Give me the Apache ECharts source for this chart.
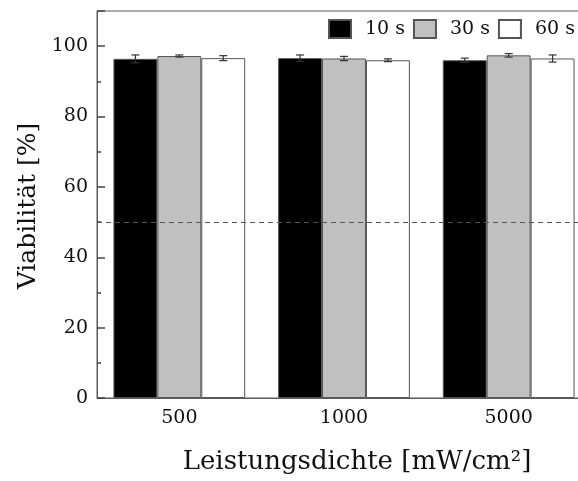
<!DOCTYPE html>
<html>
<head>
<meta charset="utf-8">
<script src="https://cdn.jsdelivr.net/npm/echarts@6/dist/echarts.min.js"></script>
<style>
  html, body { margin: 0; padding: 0; background: #fff; }
  #chart { width: 578px; height: 481px; }
</style>
</head>
<body>
<div id="chart"></div>
<script>
// Power density groups (x axis categories)
const categories = ['500', '1000', '5000'];
// Exposure times (legend)
const seriesNames = ['10 s', '30 s', '60 s'];
// Mean viability per exposure time [%]
const viab10 = [96.4, 96.6, 96.0];
const viab30 = [97.2, 96.5, 97.4];
const viab60 = [96.6, 96.0, 96.5];
// Standard deviations [%]
const err10 = [1.1, 0.9, 0.6];
const err30 = [0.3, 0.6, 0.5];
const err60 = [0.7, 0.4, 1.0];
// Reference threshold line [%]
const threshold = 50;
// Y tick labels
const yTicks = [0, 20, 40, 60, 80, 100];

const FONT = 'DejaVu Serif';
const AXIS_COLOR = '#5a5a5a';
const TICK_COLOR = '#444';
const values = [viab10, viab30, viab60];
const errors = [err10, err30, err60];
const fills = ['#000000', '#c0c0c0', '#ffffff'];
const CAT_GAP = 0.2;

const errData = [];
values.forEach((vals, k) => {
  vals.forEach((v, i) => errData.push([i, v, errors[k][i], k]));
});

const barSeries = values.map((vals, k) => ({
  name: seriesNames[k],
  type: 'bar',
  data: vals,
  barGap: '0%',
  barCategoryGap: (CAT_GAP * 100) + '%',
  itemStyle: { color: fills[k], borderColor: '#555', borderWidth: 1 },
  emphasis: { disabled: true },
  z: 2
}));

barSeries[0].markLine = {
  silent: true,
  symbol: 'none',
  z: 5,
  label: { show: false },
  lineStyle: { type: [5, 4], color: '#555', width: 1.2 },
  data: [{ yAxis: threshold }]
};

const chart = echarts.init(document.getElementById('chart'), null, { renderer: 'canvas' });

chart.setOption({
  animation: false,
  backgroundColor: '#fff',
  textStyle: { fontFamily: FONT },
  grid: {
    left: 97, top: 11, width: 494, bottom: 83,
    outerBoundsMode: 'none',
    containLabel: false,
    show: true, borderColor: AXIS_COLOR, borderWidth: 1
  },
  legend: {
    data: seriesNames,
    left: 328, top: 19,
    width: 260,
    padding: 0,
    itemWidth: 22, itemHeight: 18,
    itemGap: 8,
    icon: 'rect',
    selectedMode: false,
    textStyle: { fontFamily: FONT, fontSize: 19, color: '#111', padding: [0, 0, 0, 9] }
  },
  xAxis: {
    type: 'category',
    data: categories,
    axisLine: { lineStyle: { color: AXIS_COLOR, width: 1 } },
    axisTick: { show: false },
    axisLabel: { fontFamily: FONT, fontSize: 19, color: '#111', margin: 11 }
  },
  yAxis: [
    {
      // minor ticks every 10 and the labelled values
      type: 'value',
      min: 0, max: 110, interval: 10,
      splitLine: { show: false },
      axisLine: { show: true, lineStyle: { color: AXIS_COLOR, width: 1 } },
      axisTick: { show: true, inside: true, length: 4, lineStyle: { color: TICK_COLOR, width: 1.5 } },
      axisLabel: {
        fontFamily: FONT, fontSize: 19, color: '#111', margin: 9,
        formatter: v => (yTicks.indexOf(v) >= 0 ? String(v) : '')
      }
    },
    {
      // longer major ticks every 20
      type: 'value',
      min: 0, max: 110, interval: 20,
      position: 'left',
      splitLine: { show: false },
      axisLine: { show: false },
      axisTick: { show: true, inside: true, length: 8, lineStyle: { color: TICK_COLOR, width: 1.5 } },
      axisLabel: { show: false }
    }
  ],
  series: barSeries.concat([{
    type: 'custom',
    name: 'err',
    data: errData,
    encode: { x: 0, y: 1 },
    z: 4,
    silent: true,
    renderItem: function (params, api) {
      const cat = api.value(0), v = api.value(1), e = api.value(2), k = api.value(3);
      const band = api.size([1, 0])[0];
      const bw = band * (1 - CAT_GAP) / 3;
      const c = api.coord([cat, v]);
      const x = c[0] + (k - 1) * bw;
      const yt = api.coord([cat, v + e])[1];
      const yb = api.coord([cat, v - e])[1];
      const cap = 4;
      const style = { stroke: '#333', lineWidth: 1.2, fill: null };
      return {
        type: 'group',
        children: [
          { type: 'line', shape: { x1: x, y1: yt, x2: x, y2: yb }, style },
          { type: 'line', shape: { x1: x - cap, y1: yt, x2: x + cap, y2: yt }, style },
          { type: 'line', shape: { x1: x - cap, y1: yb, x2: x + cap, y2: yb }, style }
        ]
      };
    }
  }]),
  graphic: [
    {
      type: 'text',
      x: 357, y: 462,
      style: {
        text: 'Leistungsdichte [mW/cm²]',
        font: '26px "' + FONT + '"',
        fill: '#111',
        textAlign: 'center', textVerticalAlign: 'middle'
      }
    },
    {
      type: 'text',
      x: 28, y: 206,
      rotation: Math.PI / 2,
      style: {
        text: 'Viabilität [%]',
        font: '25px "' + FONT + '"',
        fill: '#111',
        textAlign: 'center', textVerticalAlign: 'middle'
      }
    }
  ]
});
</script>
</body>
</html>
